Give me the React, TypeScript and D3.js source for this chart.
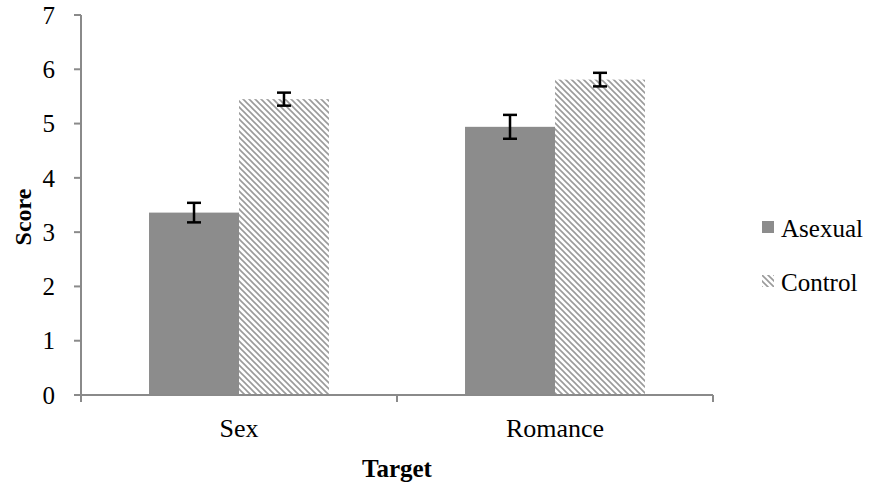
import React from "react";
import * as d3 from "d3";

const categories = ["Sex", "Romance"];
const seriesNames = ["Asexual", "Control"];
const asexualValues = [3.36, 4.94];
const controlValues = [5.45, 5.81];
const asexualErrors = [0.18, 0.22];
const controlErrors = [0.12, 0.125];
const yTicks = [0, 1, 2, 3, 4, 5, 6, 7];

const W = 871;
const H = 491;
const margin = { left: 81, right: 158, top: 15, bottom: 96 };
const FONT = "Liberation Serif, Times New Roman, serif";

export default function App() {
  const x0 = d3
    .scaleBand<string>()
    .domain(categories)
    .range([margin.left, W - margin.right])
    .paddingInner(0)
    .paddingOuter(0);
  const x1 = d3
    .scaleBand<string>()
    .domain(seriesNames)
    .range([0, x0.bandwidth()])
    .paddingOuter(0.756)
    .paddingInner(0);
  const y = d3.scaleLinear().domain([0, 7]).range([H - margin.bottom, margin.top]);

  const values = [asexualValues, controlValues];
  const errors = [asexualErrors, controlErrors];
  const axisColor = "#8a8a8a";
  const baseY = y(0);
  const txt = { fontFamily: FONT };

  return (
    <svg width={W} height={H} style={{ position: "absolute", left: 0, top: 0 }}>
      <defs>
        <pattern id="hatch" patternUnits="userSpaceOnUse" width={6} height={6}>
          <rect width={6} height={6} fill="#fff" />
          <path d="M-1,-1 L7,7 M-4,2 L2,8 M4,-2 L8,2" stroke="#9a9a9a" strokeWidth={1.6} />
        </pattern>
      </defs>
      <rect width={W} height={H} fill="#fff" />
      {categories.map((c, ci) =>
        seriesNames.map((s, si) => {
          const v = values[si][ci];
          const bx = (x0(c) as number) + (x1(s) as number);
          return (
            <rect
              key={c + s}
              x={bx}
              y={y(v)}
              width={x1.bandwidth()}
              height={baseY - y(v)}
              fill={si === 0 ? "#8c8c8c" : "url(#hatch)"}
            />
          );
        })
      )}
      {categories.map((c, ci) =>
        seriesNames.map((s, si) => {
          const v = values[si][ci];
          const e = errors[si][ci];
          const cx = (x0(c) as number) + (x1(s) as number) + x1.bandwidth() / 2;
          const y1 = y(v + e);
          const y2 = y(v - e);
          return (
            <g key={"e" + c + s} stroke="#000" strokeWidth={2.5}>
              <line x1={cx} x2={cx} y1={y1} y2={y2} />
              <line x1={cx - 7} x2={cx + 7} y1={y1} y2={y1} />
              <line x1={cx - 7} x2={cx + 7} y1={y2} y2={y2} />
            </g>
          );
        })
      )}
      <line x1={margin.left} x2={margin.left} y1={y(7)} y2={baseY} stroke={axisColor} strokeWidth={2} />
      {yTicks.map((t) => (
        <g key={"yt" + t}>
          <line x1={margin.left - 7} x2={margin.left} y1={y(t)} y2={y(t)} stroke={axisColor} strokeWidth={2} />
          <text x={55} y={y(t)} dy="0.35em" textAnchor="end" style={txt} fontSize={25} fill="#000">
            {t}
          </text>
        </g>
      ))}
      <line x1={margin.left - 7} x2={W - margin.right} y1={baseY} y2={baseY} stroke={axisColor} strokeWidth={2} />
      {[...categories.map((c) => x0(c) as number), W - margin.right].map((px, i) => (
        <line key={"xt" + i} x1={px} x2={px} y1={baseY} y2={baseY + 7} stroke={axisColor} strokeWidth={2} />
      ))}
      {categories.map((c) => (
        <text
          key={"xl" + c}
          x={(x0(c) as number) + x0.bandwidth() / 2}
          y={437}
          textAnchor="middle"
          style={txt}
          fontSize={26}
          fill="#000"
        >
          {c}
        </text>
      ))}
      <text x={397} y={477} textAnchor="middle" style={txt} fontSize={25} fontWeight="bold">
        Target
      </text>
      <text
        transform={`translate(31, ${(y(7) + baseY) / 2 + 12}) rotate(-90)`}
        textAnchor="middle"
        style={txt}
        fontSize={24}
        fontWeight="bold"
      >
        Score
      </text>
      {seriesNames.map((s, i) => (
        <g key={"lg" + s} transform={`translate(762, ${221 + i * 54})`}>
          <rect width={12} height={12} fill={i === 0 ? "#8c8c8c" : "url(#hatch)"} />
          <text x={19} y={16} style={txt} fontSize={25} fill="#000">
            {s}
          </text>
        </g>
      ))}
    </svg>
  );
}
